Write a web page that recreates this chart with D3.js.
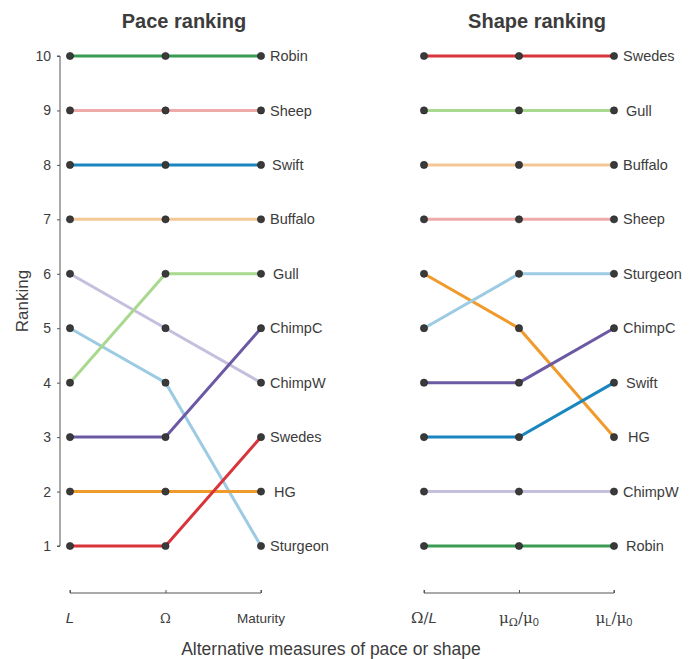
<!DOCTYPE html>
<html>
<head>
<meta charset="utf-8">
<script src="https://cdn.jsdelivr.net/npm/d3@7"></script>
<style>
  body { margin: 0; background: #fff; }
  svg text { font-family: "Liberation Sans", Arial, sans-serif; fill: #3c3c3c; }
</style>
</head>
<body>
<div id="chart"></div>
<script>
const species = ["Robin", "Sheep", "Swift", "Buffalo", "Gull", "ChimpC", "ChimpW", "Swedes", "HG", "Sturgeon"];

const colors = {
  Robin: "#3a9b52", Sheep: "#efaaaa", Swift: "#1a86bf", Buffalo: "#f4c896",
  Gull: "#a9d88f", ChimpC: "#6b5aa3", ChimpW: "#c5bfdd", Swedes: "#d8343a",
  HG: "#f19a2c", Sturgeon: "#9ccbe3"
};

const paceMeasures = ["L", "Ω", "Maturity"];
// rank of each species under L, Ω, Maturity
const paceRanks = {
  Robin: [10, 10, 10], Sheep: [9, 9, 9], Swift: [8, 8, 8], Buffalo: [7, 7, 7],
  ChimpW: [6, 5, 4], Sturgeon: [5, 4, 1], Gull: [4, 6, 6], ChimpC: [3, 3, 5],
  HG: [2, 2, 2], Swedes: [1, 1, 3]
};

const shapeMeasures = ["Ω/L", "μΩ/μ0", "μL/μ0"];
const shapeRanks = {
  Swedes: [10, 10, 10], Gull: [9, 9, 9], Buffalo: [8, 8, 8], Sheep: [7, 7, 7],
  HG: [6, 5, 3], Sturgeon: [5, 6, 6], ChimpC: [4, 4, 5], Swift: [3, 3, 4],
  ChimpW: [2, 2, 2], Robin: [1, 1, 1]
};

const rankTicks = [1, 2, 3, 4, 5, 6, 7, 8, 9, 10];

const width = 691, height = 659;
const svg = d3.select("#chart").append("svg")
  .attr("width", width).attr("height", height);

const y = d3.scaleLinear().domain([1, 10]).range([546, 56]);

// y axis only on the left panel
const yAxis = svg.append("g")
  .attr("transform", "translate(60,0)")
  .call(d3.axisLeft(y).tickValues(rankTicks).tickSize(3).tickPadding(6));
yAxis.select(".domain").attr("stroke", "#555").attr("d", `M-3,${y(10)}H0V${y(1)}H-3`);
yAxis.selectAll(".tick line").attr("stroke", "#555");
yAxis.selectAll(".tick text").style("font-size", "14px").attr("fill", "#3c3c3c")
  .style("font-family", "'Liberation Sans', Arial, sans-serif");

svg.append("text")
  .attr("transform", `translate(28,${y(5.5)}) rotate(-90)`)
  .attr("text-anchor", "middle")
  .style("font-size", "17px")
  .text("Ranking");

function panel(x0, x1, cx, title, measures, ranks, labelDx) {
  const x = d3.scalePoint().domain(measures).range([x0, x1]);

  svg.append("text")
    .attr("x", cx).attr("y", 28)
    .attr("text-anchor", "middle")
    .style("font-size", "20px").style("font-weight", "bold")
    .text(title);

  const line = d3.line().x((d, i) => x(measures[i])).y(d => y(d));

  const names = Object.keys(ranks);
  svg.append("g").selectAll("path")
    .data(names)
    .join("path")
    .attr("d", n => line(ranks[n]))
    .attr("fill", "none")
    .attr("stroke", n => colors[n])
    .attr("stroke-width", 3);

  const pts = [];
  names.forEach(n => ranks[n].forEach((r, i) => pts.push({ n, r, m: measures[i] })));
  svg.append("g").selectAll("circle")
    .data(pts)
    .join("circle")
    .attr("cx", d => x(d.m)).attr("cy", d => y(d.r))
    .attr("r", 3.6)
    .attr("fill", "#3a3a3a")
    .attr("stroke", "#222").attr("stroke-width", 0.6);

  svg.append("g").selectAll("text")
    .data(names)
    .join("text")
    .attr("x", n => x1 + 9 + (labelDx[n] || 0))
    .attr("y", n => y(ranks[n][2]))
    .attr("dy", "0.35em")
    .style("font-size", "14.5px")
    .text(n => n);

  const xAxis = svg.append("g")
    .attr("transform", "translate(0,593)")
    .call(d3.axisBottom(x).tickSize(-3).tickSizeOuter(0).tickFormat(""));
  xAxis.select(".domain").attr("stroke", "#555").attr("d", `M${x0},-3V0H${x1}V-3`);
  xAxis.selectAll(".tick line").attr("stroke", "#555");

  return x;
}

const xp = panel(70, 261, 184, "Pace ranking", paceMeasures, paceRanks,
  { Gull: 3, HG: 4, Swift: 2 });
const xs = panel(424, 614, 537, "Shape ranking", shapeMeasures, shapeRanks,
  { Gull: 3, HG: 5, Swift: 3, Robin: 3 });

// custom tick labels with italics / subscripts
function tick(x, parts, size) {
  const t = svg.append("text").attr("x", x).attr("y", 623)
    .attr("text-anchor", "middle").style("font-size", (size || 15) + "px");
  parts.forEach(p => {
    const s = t.append("tspan").text(p.t);
    if (p.i) s.style("font-style", "italic");
    if (p.sub) s.attr("dy", "3").style("font-size", "11px");
    if (p.up) s.attr("dy", "-3");
    if (p.serif) s.style("font-family", "'DejaVu Serif', 'Liberation Serif', serif");
  });
}

tick(xp("L"), [{ t: "L", i: true }]);
tick(xp("Ω"), [{ t: "Ω", serif: true }], 13);
tick(xp("Maturity"), [{ t: "Maturity" }], 13.5);
tick(xs("Ω/L"), [{ t: "Ω/", serif: true }, { t: "L", i: true }]);
tick(xs("μΩ/μ0"), [{ t: "μ", serif: true }, { t: "Ω", sub: true, serif: true }, { t: "/μ", up: true, serif: true }, { t: "0", sub: true }]);
tick(xs("μL/μ0"), [{ t: "μ", serif: true }, { t: "L", sub: true }, { t: "/μ", up: true, serif: true }, { t: "0", sub: true }]);

svg.append("text")
  .attr("x", 331).attr("y", 655)
  .attr("text-anchor", "middle")
  .style("font-size", "17.5px")
  .text("Alternative measures of pace or shape");
</script>
</body>
</html>
